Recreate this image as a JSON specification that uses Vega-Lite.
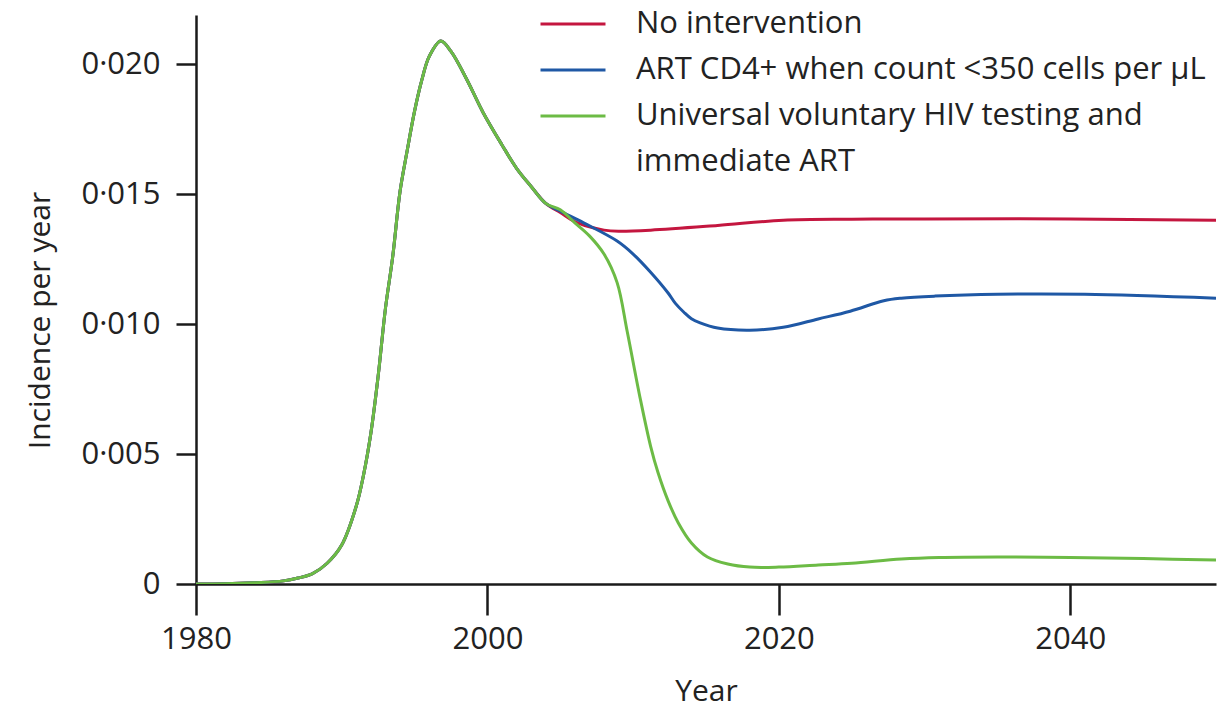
{
  "$schema": "https://vega.github.io/schema/vega-lite/v6.json",
  "autosize": "none",
  "width": 1020,
  "height": 569,
  "padding": {"left": 196, "top": 15, "right": 5, "bottom": 124},
  "background": "white",
  "config": {
    "font": "Open Sans",
    "view": {"stroke": null},
    "style": {"guide-label": {"lineHeight": 46}},
    "axis": {"grid": false, "domainColor": "#1a1a1a", "domainWidth": 2.5, "tickColor": "#1a1a1a", "tickWidth": 2.5, "labelColor": "#222", "titleColor": "#222", "labelFont": "Open Sans", "titleFont": "Open Sans", "labelFontSize": 31, "titleFontSize": 30, "titleFontWeight": "normal"}
  },
  "datasets": {
    "series": [
      {"s": "none", "year": 1980, "v": 0},
      {"s": "none", "year": 1982, "v": 0.00001},
      {"s": "none", "year": 1984, "v": 0.00005},
      {"s": "none", "year": 1986, "v": 0.00012},
      {"s": "none", "year": 1987, "v": 0.00023},
      {"s": "none", "year": 1988, "v": 0.0004},
      {"s": "none", "year": 1989, "v": 0.0008},
      {"s": "none", "year": 1990, "v": 0.0015},
      {"s": "none", "year": 1991, "v": 0.003},
      {"s": "none", "year": 1991.5, "v": 0.0042},
      {"s": "none", "year": 1992, "v": 0.0058},
      {"s": "none", "year": 1992.5, "v": 0.008},
      {"s": "none", "year": 1993, "v": 0.0106},
      {"s": "none", "year": 1993.5, "v": 0.0126},
      {"s": "none", "year": 1994, "v": 0.0151},
      {"s": "none", "year": 1994.5, "v": 0.0167},
      {"s": "none", "year": 1995, "v": 0.0182},
      {"s": "none", "year": 1995.5, "v": 0.0194},
      {"s": "none", "year": 1996, "v": 0.0203},
      {"s": "none", "year": 1996.8, "v": 0.0209},
      {"s": "none", "year": 1997.5, "v": 0.0205},
      {"s": "none", "year": 1998.6, "v": 0.0194},
      {"s": "none", "year": 1999.7, "v": 0.01815},
      {"s": "none", "year": 2001, "v": 0.0169},
      {"s": "none", "year": 2002, "v": 0.016},
      {"s": "none", "year": 2003, "v": 0.0153},
      {"s": "none", "year": 2004, "v": 0.01465},
      {"s": "none", "year": 2005, "v": 0.0143},
      {"s": "none", "year": 2006, "v": 0.01395},
      {"s": "none", "year": 2007, "v": 0.01375},
      {"s": "none", "year": 2008, "v": 0.01362},
      {"s": "none", "year": 2009, "v": 0.01358},
      {"s": "none", "year": 2011.2, "v": 0.01362},
      {"s": "none", "year": 2015.8, "v": 0.0138},
      {"s": "none", "year": 2020.3, "v": 0.014},
      {"s": "none", "year": 2025, "v": 0.01404},
      {"s": "none", "year": 2030, "v": 0.01405},
      {"s": "none", "year": 2040, "v": 0.01405},
      {"s": "none", "year": 2050, "v": 0.014},

      {"s": "cd4", "year": 1980, "v": 0},
      {"s": "cd4", "year": 1982, "v": 0.00001},
      {"s": "cd4", "year": 1984, "v": 0.00005},
      {"s": "cd4", "year": 1986, "v": 0.00012},
      {"s": "cd4", "year": 1987, "v": 0.00023},
      {"s": "cd4", "year": 1988, "v": 0.0004},
      {"s": "cd4", "year": 1989, "v": 0.0008},
      {"s": "cd4", "year": 1990, "v": 0.0015},
      {"s": "cd4", "year": 1991, "v": 0.003},
      {"s": "cd4", "year": 1991.5, "v": 0.0042},
      {"s": "cd4", "year": 1992, "v": 0.0058},
      {"s": "cd4", "year": 1992.5, "v": 0.008},
      {"s": "cd4", "year": 1993, "v": 0.0106},
      {"s": "cd4", "year": 1993.5, "v": 0.0126},
      {"s": "cd4", "year": 1994, "v": 0.0151},
      {"s": "cd4", "year": 1994.5, "v": 0.0167},
      {"s": "cd4", "year": 1995, "v": 0.0182},
      {"s": "cd4", "year": 1995.5, "v": 0.0194},
      {"s": "cd4", "year": 1996, "v": 0.0203},
      {"s": "cd4", "year": 1996.8, "v": 0.0209},
      {"s": "cd4", "year": 1997.5, "v": 0.0205},
      {"s": "cd4", "year": 1998.6, "v": 0.0194},
      {"s": "cd4", "year": 1999.7, "v": 0.01815},
      {"s": "cd4", "year": 2001, "v": 0.0169},
      {"s": "cd4", "year": 2002, "v": 0.016},
      {"s": "cd4", "year": 2003, "v": 0.0153},
      {"s": "cd4", "year": 2004, "v": 0.01465},
      {"s": "cd4", "year": 2005, "v": 0.01435},
      {"s": "cd4", "year": 2006.6, "v": 0.0139},
      {"s": "cd4", "year": 2008.9, "v": 0.0132},
      {"s": "cd4", "year": 2010, "v": 0.0127},
      {"s": "cd4", "year": 2011.2, "v": 0.012},
      {"s": "cd4", "year": 2012.4, "v": 0.0112},
      {"s": "cd4", "year": 2012.9, "v": 0.0108},
      {"s": "cd4", "year": 2013.5, "v": 0.01045},
      {"s": "cd4", "year": 2014, "v": 0.01021},
      {"s": "cd4", "year": 2014.6, "v": 0.01005},
      {"s": "cd4", "year": 2015.8, "v": 0.00985},
      {"s": "cd4", "year": 2018, "v": 0.00977},
      {"s": "cd4", "year": 2020.3, "v": 0.00988},
      {"s": "cd4", "year": 2022.7, "v": 0.0102},
      {"s": "cd4", "year": 2024.9, "v": 0.0105},
      {"s": "cd4", "year": 2027.2, "v": 0.0109},
      {"s": "cd4", "year": 2028.4, "v": 0.011},
      {"s": "cd4", "year": 2030.7, "v": 0.01108},
      {"s": "cd4", "year": 2035, "v": 0.01115},
      {"s": "cd4", "year": 2041, "v": 0.01115},
      {"s": "cd4", "year": 2050, "v": 0.011},

      {"s": "univ", "year": 1980, "v": 0},
      {"s": "univ", "year": 1982, "v": 0.00001},
      {"s": "univ", "year": 1984, "v": 0.00005},
      {"s": "univ", "year": 1986, "v": 0.00012},
      {"s": "univ", "year": 1987, "v": 0.00023},
      {"s": "univ", "year": 1988, "v": 0.0004},
      {"s": "univ", "year": 1989, "v": 0.0008},
      {"s": "univ", "year": 1990, "v": 0.0015},
      {"s": "univ", "year": 1991, "v": 0.003},
      {"s": "univ", "year": 1991.5, "v": 0.0042},
      {"s": "univ", "year": 1992, "v": 0.0058},
      {"s": "univ", "year": 1992.5, "v": 0.008},
      {"s": "univ", "year": 1993, "v": 0.0106},
      {"s": "univ", "year": 1993.5, "v": 0.0126},
      {"s": "univ", "year": 1994, "v": 0.0151},
      {"s": "univ", "year": 1994.5, "v": 0.0167},
      {"s": "univ", "year": 1995, "v": 0.0182},
      {"s": "univ", "year": 1995.5, "v": 0.0194},
      {"s": "univ", "year": 1996, "v": 0.0203},
      {"s": "univ", "year": 1996.8, "v": 0.0209},
      {"s": "univ", "year": 1997.5, "v": 0.0205},
      {"s": "univ", "year": 1998.6, "v": 0.0194},
      {"s": "univ", "year": 1999.7, "v": 0.01815},
      {"s": "univ", "year": 2001, "v": 0.0169},
      {"s": "univ", "year": 2002, "v": 0.016},
      {"s": "univ", "year": 2003, "v": 0.0153},
      {"s": "univ", "year": 2004, "v": 0.01465},
      {"s": "univ", "year": 2005, "v": 0.0144},
      {"s": "univ", "year": 2006, "v": 0.0139},
      {"s": "univ", "year": 2007, "v": 0.0134},
      {"s": "univ", "year": 2008, "v": 0.0127},
      {"s": "univ", "year": 2008.9, "v": 0.0116},
      {"s": "univ", "year": 2009.6, "v": 0.0097},
      {"s": "univ", "year": 2010.5, "v": 0.0071},
      {"s": "univ", "year": 2011.2, "v": 0.0053},
      {"s": "univ", "year": 2011.7, "v": 0.0043},
      {"s": "univ", "year": 2012.4, "v": 0.0032},
      {"s": "univ", "year": 2013.1, "v": 0.00235},
      {"s": "univ", "year": 2014, "v": 0.00158},
      {"s": "univ", "year": 2015.1, "v": 0.00104},
      {"s": "univ", "year": 2016.5, "v": 0.00077},
      {"s": "univ", "year": 2018, "v": 0.00065},
      {"s": "univ", "year": 2020, "v": 0.00065},
      {"s": "univ", "year": 2022.7, "v": 0.00073},
      {"s": "univ", "year": 2025, "v": 0.0008},
      {"s": "univ", "year": 2028.4, "v": 0.00096},
      {"s": "univ", "year": 2031, "v": 0.00102},
      {"s": "univ", "year": 2035, "v": 0.00104},
      {"s": "univ", "year": 2040, "v": 0.00102},
      {"s": "univ", "year": 2045, "v": 0.00098},
      {"s": "univ", "year": 2050, "v": 0.00092}
    ]
  },
  "data": {"name": "series"},
  "mark": {"type": "line", "strokeWidth": 3, "interpolate": "catmull-rom", "clip": true},
  "encoding": {
    "x": {
      "field": "year", "type": "quantitative", "title": "Year",
      "scale": {"domain": [1980, 2050], "nice": false, "zero": false},
      "axis": {"values": [1980, 2000, 2020, 2040], "format": "d", "tickSize": 31, "labelPadding": 9, "titlePadding": 22, "labelFlush": false}
    },
    "y": {
      "field": "v", "type": "quantitative", "title": "Incidence per year",
      "scale": {"domain": [0, 0.0219], "nice": false},
      "axis": {"values": [0, 0.005, 0.01, 0.015, 0.02], "tickSize": 20, "labelPadding": 16, "labelExpr": "datum.value == 0 ? '0' : replace(format(datum.value, '.3f'), '.', '·')", "titleX": -156, "titleY": 305, "titleAngle": -90, "titleBaseline": "middle", "labelFlush": false}
    },
    "color": {
      "field": "s", "type": "nominal",
      "scale": {"domain": ["none", "cd4", "univ"], "range": ["#C4163F", "#1F58A5", "#6CBB45"]},
      "legend": {
        "title": null, "orient": "none", "legendX": 359, "legendY": -9,
        "symbolType": "M-2,0H2", "symbolSize": 1056, "symbolStrokeWidth": 3,
        "labelFont": "Open Sans", "labelFontSize": 31, "labelColor": "#222", "labelLimit": 0,
        "labelOffset": 45, "rowPadding": 13, "padding": 0,
        "labelExpr": "datum.value == 'none' ? 'No intervention' : datum.value == 'cd4' ? 'ART CD4+ when count <350 cells per μL' : ['Universal voluntary HIV testing and', 'immediate ART']"
      }
    }
  }
}
